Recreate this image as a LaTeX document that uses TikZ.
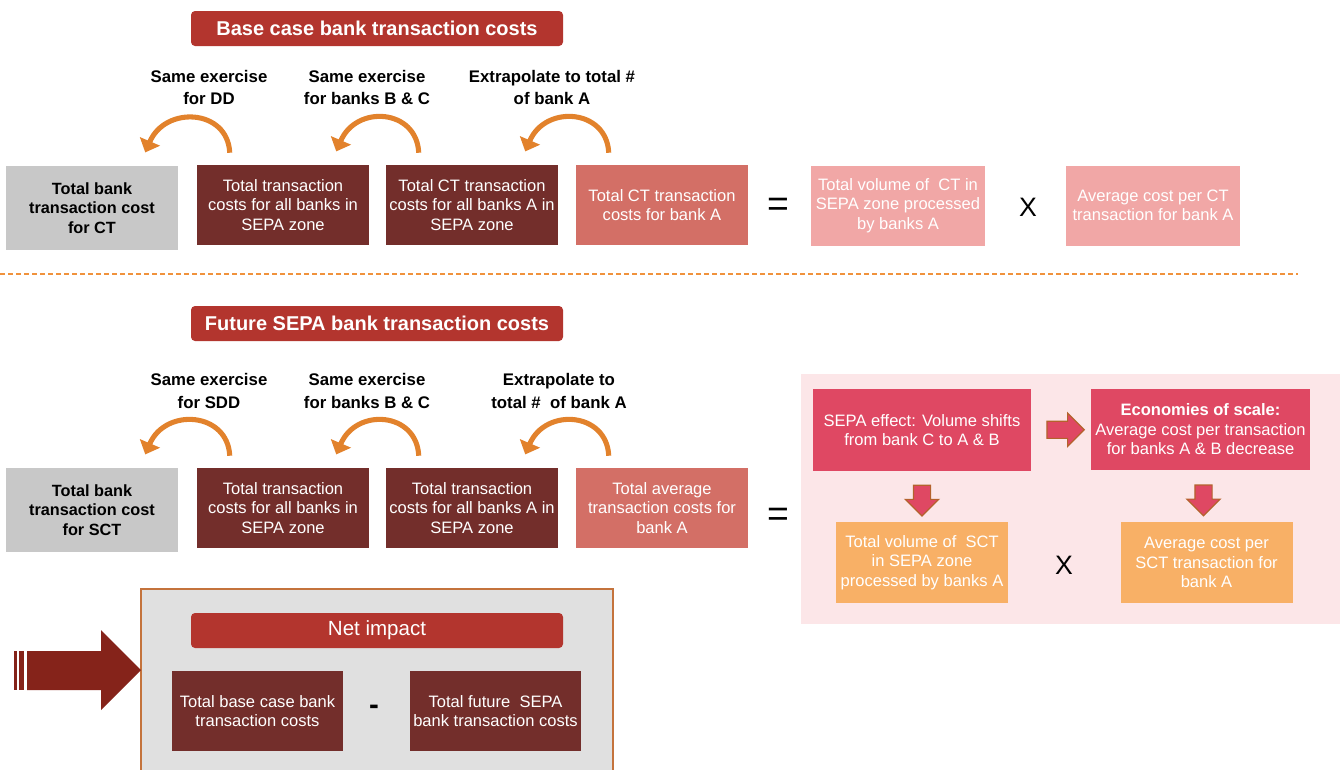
\documentclass[tikz,border=0pt]{standalone}
\usepackage{fontspec}
\setmainfont{Liberation Sans}
\usetikzlibrary{arrows.meta,shapes.arrows,calc}

\definecolor{titlered}{HTML}{B3352E}
\definecolor{boxdark}{HTML}{732E2B}
\definecolor{boxmed}{HTML}{D36F66}
\definecolor{boxlight}{HTML}{F1A7A6}
\definecolor{boxgray}{HTML}{C8C8C8}
\definecolor{regionpink}{HTML}{FCE6E8}
\definecolor{sered}{HTML}{DF4863}
\definecolor{boxorange}{HTML}{F8B066}
\definecolor{curlorange}{HTML}{E2822C}
\definecolor{dashorange}{HTML}{F0923C}
\definecolor{netgray}{HTML}{E0E0E0}
\definecolor{netborder}{HTML}{C4733C}
\definecolor{bigred}{HTML}{85231A}
\definecolor{arrowbrown}{HTML}{B4622C}

\begin{document}
\begin{tikzpicture}[x=0.75pt, y=-0.75pt,
    titlebar/.style={fill=titlered, rounded corners=3pt, text=white, minimum width=279pt, minimum height=26.25pt, inner sep=0pt, font=\fontsize{15}{18}\selectfont\bfseries},
    head/.style={align=center, font=\fontsize{12.6}{17}\selectfont\bfseries},
    cbox/.style={minimum width=129pt, minimum height=60pt, align=center, text=white, inner sep=0pt, font=\fontsize{12.4}{14.6}\selectfont},
    graybox/.style={cbox, fill=boxgray, text=black, minimum height=63pt, font=\fontsize{12.2}{14.6}\selectfont\bfseries},
    darkbox/.style={cbox, fill=boxdark},
    medbox/.style={cbox, fill=boxmed},
    lightbox/.style={cbox, fill=boxlight, minimum width=130.5pt},
    redbox/.style={cbox, fill=sered, minimum width=164pt, minimum height=61pt},
    orangebox/.style={cbox, fill=boxorange, minimum height=60.75pt},
    sign/.style={font=\fontsize{20}{20}\selectfont},
    curl/.style={draw=curlorange, line width=3.8pt, -{Triangle[length=9pt,width=16pt]}},
    blockarrow/.style={single arrow, fill=sered, draw=arrowbrown, line width=0.9pt, inner xsep=0pt, inner ysep=6pt, single arrow head extend=6pt, single arrow tip angle=90, minimum height=23pt}
]
    \useasboundingbox (0,0) rectangle (1344,769);

    % base case
    \node[titlebar] (t1) at (377,28.5) {Base case bank transaction costs};
    \node[head] (h1) at (209,87.5) {Same exercise\\for DD};
    \node[head] (h2) at (367,87.5) {Same exercise\\for banks B \& C};
    \node[head] (h3) at (552,87.5) {Extrapolate to total \#\\of bank A};

    \node[graybox] (gA) at (92,208) {Total bank\\transaction cost\\for CT};
    \node[darkbox] (dA1) at (283,205) {Total transaction\\costs for all banks in\\SEPA zone};
    \node[darkbox] (dA2) at (472,205) {Total CT transaction\\costs for all banks A in\\SEPA zone};
    \node[medbox] (mA) at (662,205) {Total CT transaction\\costs for bank A};
    \node[sign, font=\fontsize{28}{28}\selectfont] (eq1) at (778,207) {=};
    \node[lightbox] (pA1) at (898,205.5) {Total volume of~ CT in\\SEPA zone processed\\by banks A};
    \node[sign] (x1) at (1028,207) {X};
    \node[lightbox] (pA2) at (1153,205.5) {Average cost per CT\\transaction for bank A};

    \draw[dashorange, line width=1.8pt, dash pattern=on 4pt off 2pt] (0,274) -- (1298,274);

    % future SEPA
    \node[titlebar] (t2) at (377,323.5) {Future SEPA bank transaction costs};
    \node[head] (h4) at (209,391) {Same exercise\\for SDD};
    \node[head] (h5) at (367,391) {Same exercise\\for banks B \& C};
    \node[head] (h6) at (559,391) {Extrapolate to\\total \#~ of bank A};

    \node[graybox] (gB) at (92,510) {Total bank\\transaction cost\\for SCT};
    \node[darkbox] (dB1) at (283,508) {Total transaction\\costs for all banks in\\SEPA zone};
    \node[darkbox] (dB2) at (472,508) {Total transaction\\costs for all banks A in\\SEPA zone};
    \node[medbox] (mB) at (662,508) {Total average\\transaction costs for\\bank A};
    \node[sign, font=\fontsize{28}{28}\selectfont] (eq2) at (778,517) {=};

    \foreach \s/\t in {dA1/gA, dA2/dA1, mA/dA2, dB1/gB, dB2/dB1, mB/dB2} {
        \draw[curl] ([xshift=24.75pt,yshift=9pt]\s.north west) .. controls +(-2,-44) and +(20,-47) .. ([xshift=-24.75pt,yshift=10pt]\t.north east);
    }

    \fill[regionpink] (801,374) rectangle (1340,624);
    \node[redbox] (se) at (922,430) {SEPA effect: Volume shifts\\from bank C to A \& B};
    \node[redbox] (eos) at (1200.5,429.5) {\textbf{Economies of scale:}\\Average cost per transaction\\for banks A \& B decrease};
    \node[orangebox] (volB) at (922,562.5) {Total volume of~ SCT\\in SEPA zone\\processed by banks A};
    \node[sign] (x2) at (1064,565) {X};
    \node[orangebox] (avgB) at (1206.5,562.5) {Average cost per\\SCT transaction for\\bank A};
    \node[blockarrow, minimum height=28pt] (ar1) at ($(se.east)!0.5!(eos.west)$) {};
    \node[blockarrow, rotate=-90] (ar2) at ($(se.south)!0.5!(volB.north)$) {};
    \node[blockarrow, rotate=-90] (ar3) at ($(eos.south)!0.5!(avgB.north)$) {};

    % net impact
    \node[fill=netgray, draw=netborder, line width=1.1pt, minimum width=354pt, minimum height=139.5pt, inner sep=0pt] (nbox) at (377,682) {};
    \node[titlebar, font=\fontsize{15.4}{18}\selectfont] (nbar) at (377,630.5) {Net impact};
    \node[darkbox, minimum width=128.25pt] (nbase) at (257.5,711) {Total base case bank\\transaction costs};
    \node[sign, font=\fontsize{22}{22}\selectfont\bfseries] (minus) at (374,710) {-};
    \node[darkbox, minimum width=128.25pt] (nfut) at (495.5,711) {Total future~ SEPA\\bank transaction costs};

    \fill[bigred] (27,651) -- (101,651) -- (101,630) -- (141,670) -- (101,710) -- (101,690) -- (27,690) -- cycle;
    \fill[bigred] (14,651) rectangle (17,690);
    \fill[bigred] (19,651) rectangle (24,690);
\end{tikzpicture}
\end{document}
